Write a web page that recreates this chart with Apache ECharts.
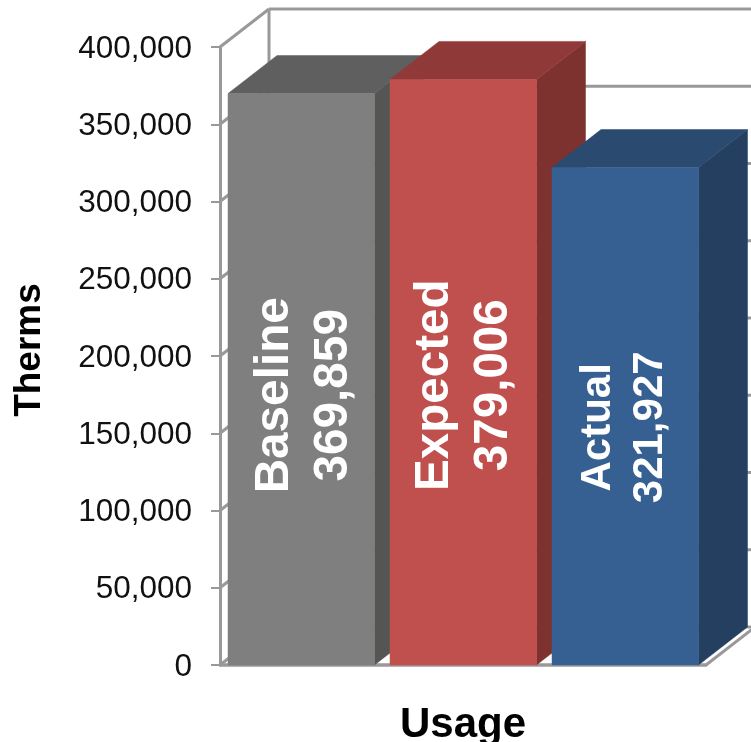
<!DOCTYPE html>
<html><head><meta charset="utf-8">
<style>html,body{margin:0;padding:0;background:#fff}#c{width:751px;height:742px}</style>
<script src="https://cdn.jsdelivr.net/npm/echarts@6/dist/echarts.min.js"></script>
</head><body><div id="c"></div>
<script>
const categories = ['Baseline', 'Expected', 'Actual'];
const values = [369859, 379006, 321927];
const yTicks = [0, 50000, 100000, 150000, 200000, 250000, 300000, 350000, 400000];

const FONT = '"Liberation Sans", Arial, sans-serif';
const DX = 49, DY = -38, LINE = '#999999';
const faces = [
  { front: '#7f7f7f', top: '#5f5f5f', side: '#555553' },
  { front: '#c0504d', top: '#8f3a38', side: '#7e3230' },
  { front: '#376092', top: '#2a4a70', side: '#243f60' }
];
const labelFit = [
  { size: 47.7, a: -26, b: 33, dy: 16 },
  { size: 47.6, a: -28, b: 31, dy: 13 },
  { size: 42, a: -27, b: 25, dy: 11 }
];

function poly(pts, fill) {
  return { type: 'polygon', shape: { points: pts }, style: { fill: fill, stroke: fill, lineWidth: 0.5 } };
}
function seg(x1, y1, x2, y2) {
  return { type: 'line', shape: { x1, y1, x2, y2 }, style: { stroke: LINE, lineWidth: 3, fill: null } };
}

const chart = echarts.init(document.getElementById('c'), null, { renderer: 'canvas' });
chart.setOption({
  animation: false,
  backgroundColor: '#fff',
  grid: { left: 220, right: 45, top: 47, bottom: 77, outerBoundsMode: 'none' },
  xAxis: {
    type: 'category', data: categories,
    name: 'Usage', nameLocation: 'middle', nameGap: 39,
    nameTextStyle: { fontFamily: FONT, fontWeight: 'bold', fontSize: 42, color: '#000' },
    axisLine: { show: true, lineStyle: { color: LINE, width: 3.5 } },
    axisTick: { show: false }, axisLabel: { show: false }, splitLine: { show: false }
  },
  yAxis: {
    type: 'value', min: 0, max: 400000, interval: 50000,
    name: 'Therms', nameLocation: 'middle', nameRotate: 90, nameGap: 158,
    nameTextStyle: { fontFamily: FONT, fontWeight: 'bold', fontSize: 37, color: '#000', padding: [0, 0, 14, 12] },
    axisLine: { show: true, lineStyle: { color: LINE, width: 3 } },
    axisTick: { show: true, length: 9, lineStyle: { color: LINE, width: 2 } },
    axisLabel: { margin: 28,
      formatter: v => '{t|' + v.toLocaleString('en-US') + '}',
      rich: { t: { fontFamily: FONT, fontSize: 31.5, color: '#111', padding: [4, 0, 0, 0] } } },
    splitLine: { show: false }
  },
  series: [
    {
      type: 'custom', silent: true, z: 1, coordinateSystem: 'cartesian2d',
      data: yTicks.map(v => [0, v]),
      encode: { x: 0, y: 1 },
      renderItem(params, api) {
        const y = api.coord([0, api.value(1)])[1];
        const r = params.coordSys;
        const kids = [
          seg(r.x + DX, y + DY, 760, y + DY),
          seg(r.x, y, r.x + DX, y + DY)
        ];
        if (api.value(1) === 0) {
          kids.push(seg(r.x + r.width, y, r.x + r.width + DX, y + DY));
        }
        if (api.value(1) === 400000) {
          kids.push(seg(r.x + DX, y + DY, r.x + DX, y + DY + r.height));
        }
        return { type: 'group', children: kids };
      }
    },
    {
      type: 'custom', silent: true, z: 2, coordinateSystem: 'cartesian2d',
      data: values.map((v, i) => [i, v]),
      encode: { x: 0, y: 1 },
      renderItem(params, api) {
        const i = params.dataIndex;
        const c = api.coord([api.value(0), api.value(1)]);
        const base = api.coord([api.value(0), 0])[1];
        const hw = 73.5, l = c[0] - hw + 0.5, r = c[0] + hw, t = c[1];
        const f = faces[i], fit = labelFit[i];
        const mid = (t + base) / 2 + fit.dy;
        const label = (txt, x) => ({
          type: 'text', x: x, y: mid, rotation: Math.PI / 2,
          style: { text: txt, fill: '#fff', align: 'center', verticalAlign: 'middle',
            font: 'bold ' + fit.size + 'px ' + FONT }
        });
        return { type: 'group', children: [
          poly([[r, base], [r + DX, base + DY], [r + DX, t + DY], [r, t]], f.side),
          poly([[l, t], [l + DX, t + DY], [r + DX, t + DY], [r, t]], f.top),
          poly([[l, base], [l, t], [r, t], [r, base]], f.front),
          label(categories[i], c[0] + fit.a),
          label(values[i].toLocaleString('en-US'), c[0] + fit.b)
        ] };
      }
    }
  ]
});
</script></body></html>
